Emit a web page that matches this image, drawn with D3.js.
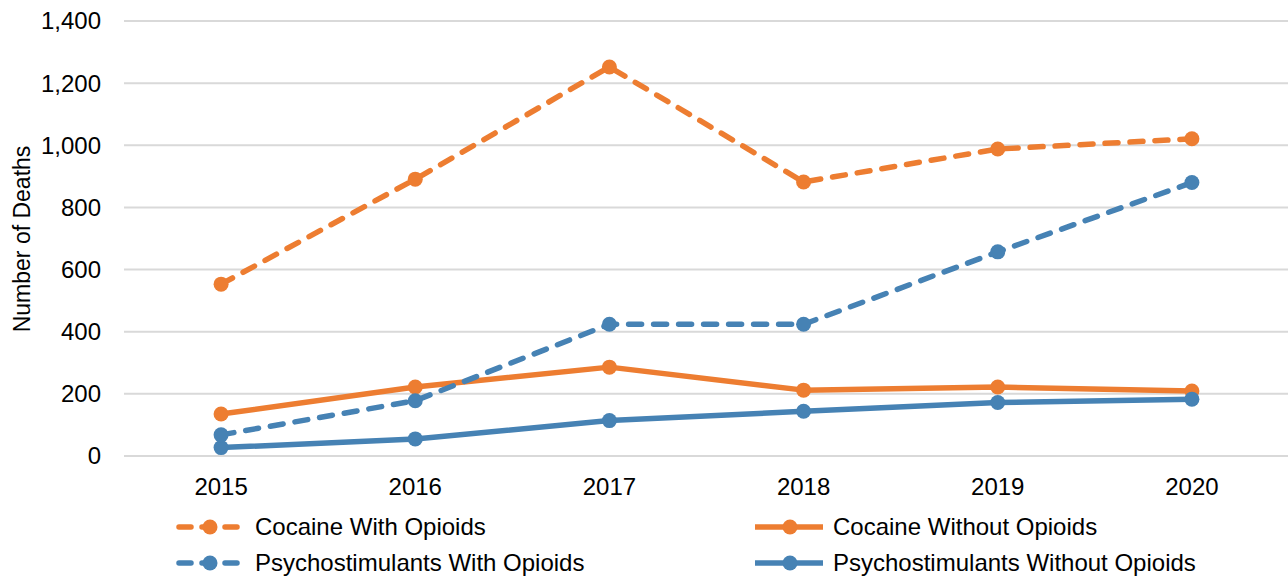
<!DOCTYPE html>
<html>
<head>
<meta charset="utf-8">
<script src="https://cdn.jsdelivr.net/npm/d3@7"></script>
<style>
  body { margin: 0; background: #fff; }
  text { font-family: "Liberation Sans", Arial, sans-serif; fill: #000; }
</style>
</head>
<body>
<div id="chart"></div>
<script>
// data
var years = ["2015", "2016", "2017", "2018", "2019", "2020"];
var cocaineWith = [553, 891, 1252, 882, 988, 1021];
var cocaineWithout = [135, 222, 286, 212, 222, 209];
var psychoWith = [68, 178, 424, 424, 657, 880];
var psychoWithout = [27, 55, 114, 144, 172, 183];
var yTicks = [0, 200, 400, 600, 800, 1000, 1200, 1400];

var orange = "#ed7d31", blue = "#4682b4";

var series = [
  {name: "Cocaine With Opioids", values: cocaineWith, color: orange, dashed: true},
  {name: "Cocaine Without Opioids", values: cocaineWithout, color: orange, dashed: false},
  {name: "Psychostimulants With Opioids", values: psychoWith, color: blue, dashed: true},
  {name: "Psychostimulants Without Opioids", values: psychoWithout, color: blue, dashed: false}
];

var W = 1288, H = 577;
var svg = d3.select("#chart").append("svg")
  .attr("width", W).attr("height", H);

// plot area
var plotLeft = 124, plotRight = 1289, plotTop = 21, plotBottom = 456;

var x = d3.scalePoint().domain(years).range([plotLeft, plotRight]).padding(0.5);
var y = d3.scaleLinear().domain([0, 1400]).range([plotBottom, plotTop]);

// gridlines
svg.append("g").selectAll("line")
  .data(yTicks)
  .enter().append("line")
  .attr("x1", plotLeft).attr("x2", plotRight)
  .attr("y1", function(d) { return y(d); })
  .attr("y2", function(d) { return y(d); })
  .attr("stroke", "#d9d9d9")
  .attr("stroke-width", 2);

// y tick labels
var fmt = d3.format(",");
svg.append("g").selectAll("text")
  .data(yTicks)
  .enter().append("text")
  .attr("x", 101)
  .attr("y", function(d) { return y(d); })
  .attr("dy", "0.35em")
  .attr("text-anchor", "end")
  .style("font-size", "24px")
  .text(function(d) { return fmt(d); });

// x tick labels
svg.append("g").selectAll("text")
  .data(years)
  .enter().append("text")
  .attr("x", function(d) { return x(d); })
  .attr("y", 495)
  .attr("text-anchor", "middle")
  .style("font-size", "24px")
  .text(function(d) { return d; });

// y axis title
svg.append("text")
  .attr("transform", "translate(30,239) rotate(-90)")
  .attr("text-anchor", "middle")
  .style("font-size", "23px")
  .text("Number of Deaths");

var line = d3.line()
  .x(function(d, i) { return x(years[i]); })
  .y(function(d) { return y(d); });

// draw solid lines first, then dashed on top
var order = [1, 3, 2, 0];
order.forEach(function(k) {
  var s = series[k];
  var g = svg.append("g");
  g.append("path")
    .datum(s.values)
    .attr("d", line)
    .attr("fill", "none")
    .attr("stroke", s.color)
    .attr("stroke-width", 5.5)
    .attr("stroke-linejoin", "round")
    .attr("stroke-linecap", s.dashed ? "round" : "butt")
    .attr("stroke-dasharray", s.dashed ? "13,12" : null);
  g.selectAll("circle")
    .data(s.values)
    .enter().append("circle")
    .attr("cx", function(d, i) { return x(years[i]); })
    .attr("cy", function(d) { return y(d); })
    .attr("r", 7.5)
    .attr("fill", s.color);
});

// legend
var legendPos = [
  {x: 177, y: 527}, {x: 755, y: 527},
  {x: 177, y: 563}, {x: 755, y: 563}
];
series.forEach(function(s, i) {
  var p = legendPos[i];
  var g = svg.append("g").attr("transform", "translate(" + p.x + "," + p.y + ")");
  if (s.dashed) {
    g.append("line").attr("x1", 2).attr("x2", 64)
      .attr("stroke", s.color).attr("stroke-width", 5.5)
      .attr("stroke-linecap", "round")
      .attr("stroke-dasharray", "12,11");
  } else {
    g.append("line").attr("x1", 0).attr("x2", 68)
      .attr("stroke", s.color).attr("stroke-width", 5.5);
  }
  g.append("circle").attr("cx", s.dashed ? 33 : 35).attr("r", 7.5).attr("fill", s.color);
  g.append("text")
    .attr("x", 78)
    .attr("dy", "0.35em")
    .style("font-size", "24px")
    .text(s.name);
});
</script>
</body>
</html>
